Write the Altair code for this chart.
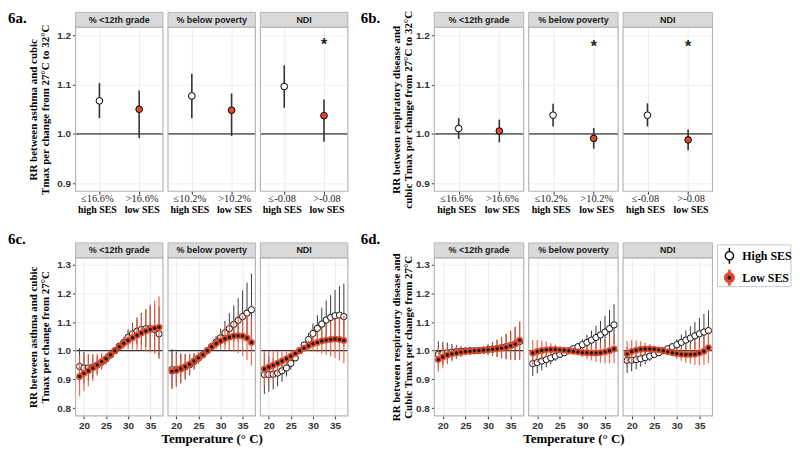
import altair as alt
import pandas as pd

# ---------------- data ----------------
facets = ["% <12th grade", "% below poverty", "NDI"]
groups = ["High SES", "Low SES"]
ses_labels = ["high SES", "low SES"]
cut_high = ["≤16.6%", "≤10.2%", "≤-0.08"]
cut_low = [">16.6%", ">10.2%", ">-0.08"]
panel_labels = ["6a.", "6b.", "6c.", "6d."]

# 6a: asthma, RR 27C -> 32C
a_high_est = [1.067, 1.077, 1.096]
a_high_lo = [1.032, 1.032, 1.053]
a_high_hi = [1.103, 1.122, 1.139]
a_low_est = [1.050, 1.048, 1.037]
a_low_lo = [0.992, 0.996, 0.984]
a_low_hi = [1.088, 1.082, 1.070]
a_star = [False, False, True]
a_star_y = 1.188

# 6b: respiratory disease, RR 27C -> 32C
b_high_est = [1.011, 1.038, 1.038]
b_high_lo = [0.990, 1.015, 1.015]
b_high_hi = [1.032, 1.061, 1.062]
b_low_est = [1.006, 0.991, 0.988]
b_low_lo = [0.983, 0.970, 0.967]
b_low_hi = [1.029, 1.012, 1.009]
b_star = [False, True, True]
b_star_y = 1.184

temps = [19, 20, 21, 22, 23, 24, 25, 26, 27, 28, 29, 30, 31, 32, 33, 34, 35, 36, 37]

# 6c: asthma curves
c_grade_high_est = [0.945, 0.940, 0.940, 0.943, 0.950, 0.960, 0.971, 0.985, 1.000, 1.016, 1.029, 1.047, 1.059, 1.068, 1.074, 1.077, 1.077, 1.074, 1.059]
c_grade_high_lo = [0.885, 0.887, 0.894, 0.904, 0.919, 0.936, 0.955, 0.976, 1.000, 1.007, 1.011, 1.019, 1.022, 1.022, 1.019, 1.013, 1.005, 0.994, 0.972]
c_grade_high_hi = [1.009, 0.996, 0.988, 0.984, 0.982, 0.985, 0.988, 0.994, 1.000, 1.025, 1.048, 1.075, 1.097, 1.116, 1.132, 1.145, 1.155, 1.161, 1.154]
c_grade_low_est = [0.910, 0.921, 0.930, 0.940, 0.950, 0.962, 0.972, 0.986, 1.000, 1.014, 1.026, 1.036, 1.045, 1.054, 1.062, 1.069, 1.074, 1.078, 1.082]
c_grade_low_lo = [0.841, 0.859, 0.876, 0.894, 0.913, 0.933, 0.952, 0.975, 1.000, 1.003, 1.005, 1.005, 1.004, 1.003, 1.001, 0.998, 0.994, 0.989, 0.984]
c_grade_low_hi = [0.985, 0.987, 0.988, 0.989, 0.989, 0.992, 0.992, 0.997, 1.000, 1.025, 1.048, 1.068, 1.088, 1.108, 1.127, 1.145, 1.161, 1.175, 1.190]

c_pov_high_est = [0.934, 0.934, 0.937, 0.943, 0.951, 0.962, 0.974, 0.986, 1.000, 1.015, 1.030, 1.045, 1.062, 1.077, 1.092, 1.106, 1.119, 1.131, 1.143]
c_pov_high_lo = [0.868, 0.875, 0.886, 0.899, 0.914, 0.934, 0.955, 0.976, 1.000, 1.005, 1.010, 1.015, 1.021, 1.026, 1.030, 1.034, 1.035, 1.034, 1.030]
c_pov_high_hi = [1.005, 0.997, 0.991, 0.989, 0.989, 0.991, 0.993, 0.996, 1.000, 1.025, 1.051, 1.076, 1.104, 1.131, 1.158, 1.183, 1.210, 1.237, 1.269]
c_pov_low_est = [0.928, 0.931, 0.937, 0.944, 0.953, 0.964, 0.975, 0.986, 1.000, 1.014, 1.025, 1.034, 1.042, 1.047, 1.051, 1.052, 1.051, 1.044, 1.029]
c_pov_low_lo = [0.867, 0.877, 0.889, 0.902, 0.918, 0.937, 0.956, 0.976, 1.000, 1.004, 1.005, 1.005, 1.004, 1.001, 0.997, 0.991, 0.982, 0.968, 0.948]
c_pov_low_hi = [0.993, 0.989, 0.988, 0.987, 0.989, 0.992, 0.995, 0.996, 1.000, 1.024, 1.046, 1.064, 1.082, 1.095, 1.108, 1.117, 1.125, 1.125, 1.118]

c_ndi_high_est = [0.917, 0.917, 0.918, 0.922, 0.930, 0.940, 0.956, 0.975, 1.000, 1.020, 1.039, 1.060, 1.078, 1.093, 1.107, 1.116, 1.122, 1.124, 1.119]
c_ndi_high_lo = [0.849, 0.857, 0.865, 0.876, 0.892, 0.910, 0.935, 0.964, 1.000, 1.009, 1.017, 1.026, 1.034, 1.039, 1.043, 1.043, 1.039, 1.031, 1.014]
c_ndi_high_hi = [0.990, 0.981, 0.974, 0.970, 0.970, 0.971, 0.977, 0.986, 1.000, 1.031, 1.062, 1.095, 1.124, 1.150, 1.175, 1.194, 1.212, 1.225, 1.234]
c_ndi_low_est = [0.936, 0.943, 0.949, 0.956, 0.964, 0.972, 0.981, 0.990, 1.000, 1.009, 1.017, 1.024, 1.029, 1.034, 1.037, 1.039, 1.041, 1.039, 1.036]
c_ndi_low_lo = [0.876, 0.890, 0.902, 0.916, 0.931, 0.947, 0.964, 0.981, 1.000, 1.000, 0.999, 0.998, 0.994, 0.990, 0.986, 0.980, 0.975, 0.966, 0.956]
c_ndi_low_hi = [1.000, 1.000, 0.998, 0.998, 0.998, 0.997, 0.999, 0.999, 1.000, 1.018, 1.035, 1.051, 1.065, 1.079, 1.091, 1.101, 1.112, 1.118, 1.123]

# 6d: respiratory disease curves
d_grade_high_est = [0.987, 0.990, 0.993, 0.995, 0.997, 0.998, 0.999, 1.000, 1.000, 1.001, 1.002, 1.004, 1.006, 1.008, 1.011, 1.014, 1.018, 1.024, 1.032]
d_grade_high_lo = [0.943, 0.951, 0.959, 0.967, 0.975, 0.981, 0.987, 0.994, 1.000, 0.995, 0.990, 0.986, 0.981, 0.978, 0.974, 0.971, 0.969, 0.968, 0.969]
d_grade_high_hi = [1.033, 1.031, 1.028, 1.024, 1.020, 1.015, 1.011, 1.006, 1.000, 1.007, 1.014, 1.022, 1.031, 1.039, 1.049, 1.059, 1.070, 1.083, 1.099]
d_grade_low_est = [0.969, 0.978, 0.985, 0.989, 0.992, 0.995, 0.997, 0.998, 1.000, 1.001, 1.002, 1.003, 1.005, 1.007, 1.009, 1.012, 1.017, 1.023, 1.037]
d_grade_low_lo = [0.927, 0.941, 0.953, 0.962, 0.971, 0.978, 0.986, 0.992, 1.000, 0.995, 0.990, 0.985, 0.981, 0.978, 0.973, 0.970, 0.969, 0.968, 0.975]
d_grade_low_hi = [1.013, 1.016, 1.018, 1.017, 1.014, 1.012, 1.008, 1.004, 1.000, 1.007, 1.014, 1.021, 1.029, 1.037, 1.046, 1.056, 1.068, 1.081, 1.103]

d_pov_high_est = [0.955, 0.959, 0.964, 0.969, 0.975, 0.981, 0.987, 0.993, 1.000, 1.007, 1.014, 1.021, 1.029, 1.037, 1.046, 1.055, 1.065, 1.077, 1.090]
d_pov_high_lo = [0.912, 0.921, 0.931, 0.942, 0.953, 0.964, 0.975, 0.987, 1.000, 1.001, 1.001, 1.002, 1.003, 1.005, 1.007, 1.009, 1.011, 1.016, 1.023]
d_pov_high_hi = [1.000, 0.998, 0.998, 0.997, 0.997, 0.999, 0.999, 0.999, 1.000, 1.013, 1.027, 1.040, 1.056, 1.070, 1.087, 1.104, 1.121, 1.142, 1.162]
d_pov_low_est = [0.992, 0.997, 1.001, 1.003, 1.004, 1.004, 1.003, 1.002, 1.000, 0.998, 0.996, 0.994, 0.993, 0.992, 0.992, 0.993, 0.996, 1.000, 1.006]
d_pov_low_lo = [0.949, 0.959, 0.968, 0.976, 0.982, 0.987, 0.992, 0.996, 1.000, 0.992, 0.985, 0.977, 0.972, 0.966, 0.961, 0.958, 0.956, 0.955, 0.956]
d_pov_low_hi = [1.037, 1.037, 1.035, 1.031, 1.026, 1.021, 1.014, 1.008, 1.000, 1.004, 1.007, 1.011, 1.015, 1.019, 1.024, 1.030, 1.038, 1.047, 1.058]

d_ndi_high_est = [0.966, 0.967, 0.969, 0.972, 0.976, 0.981, 0.987, 0.993, 1.000, 1.007, 1.014, 1.021, 1.029, 1.037, 1.044, 1.052, 1.059, 1.065, 1.070]
d_ndi_high_lo = [0.922, 0.928, 0.935, 0.944, 0.953, 0.964, 0.975, 0.987, 1.000, 1.000, 1.001, 1.001, 1.003, 1.004, 1.005, 1.006, 1.007, 1.006, 1.005]
d_ndi_high_hi = [1.012, 1.008, 1.004, 1.001, 0.999, 0.999, 0.999, 0.999, 1.000, 1.014, 1.027, 1.041, 1.056, 1.071, 1.085, 1.100, 1.114, 1.128, 1.140]
d_ndi_low_est = [0.989, 0.997, 1.002, 1.005, 1.006, 1.006, 1.005, 1.003, 1.000, 0.996, 0.993, 0.990, 0.988, 0.987, 0.987, 0.988, 0.992, 0.998, 1.010]
d_ndi_low_lo = [0.946, 0.959, 0.969, 0.978, 0.984, 0.989, 0.994, 0.997, 1.000, 0.990, 0.981, 0.972, 0.965, 0.958, 0.954, 0.950, 0.949, 0.950, 0.956]
d_ndi_low_hi = [1.034, 1.037, 1.036, 1.033, 1.028, 1.023, 1.016, 1.009, 1.000, 1.002, 1.005, 1.008, 1.012, 1.017, 1.022, 1.028, 1.037, 1.048, 1.067]

y_titles = [
    ["RR between asthma and cubic", "Tmax per change from 27°C to 32°C"],
    ["RR between respiratory disease and", "cubic Tmax per change from 27°C to 32°C"],
    ["RR between asthma and cubic", "Tmax per change from 27°C"],
    ["RR between respiratory disease and", "Cubic Tmax per change from 27°C"],
]
x_title = "Temperature (° C)"

# ---------------- style ----------------
SERIF = "Liberation Serif"
SANS = "Liberation Sans"
RED = "#e2492b"
RED_BAR = "#ec5a3c"
GRID = "#ececec"
BORDER = "#b5b5b5"
A_DOM = [0.884, 1.216]
A_TICKS = [0.9, 1.0, 1.1, 1.2]
C_DOM = [0.773, 1.324]
C_TICKS = [0.8, 0.9, 1.0, 1.1, 1.2, 1.3]
X_DOM = [18.1, 37.9]
H1, H2 = 165, 159
WA, WB = 88, 90
SPW, LEGW = 77, 74
STRIP = 15

one = pd.DataFrame({"k": [0]})


def y_axis(ticks, show, title, h, tx):
    common = dict(values=ticks, grid=True, gridColor=GRID, gridWidth=0.8, domain=False)
    if show:
        return alt.Axis(format=".1f", labelFont=SANS, labelFontWeight="bold", labelFontSize=10,
                        labelColor="#333333", tickColor="#333333", tickSize=3, labelPadding=2,
                        title=title, titleFont=SERIF, titleFontSize=11, titleFontWeight="bold",
                        titleColor="black", titleLineHeight=12, titleX=tx, titleY=h / 2,
                        titleAngle=270, titleAlign="center", titleBaseline="middle", **common)
    return alt.Axis(labels=False, ticks=False, title=None, **common)


def frame_layers(name, w, h, plabel=None, pdx=0, pdy=0):
    d = pd.DataFrame({"t": [name]})
    out = [
        alt.Chart(d).mark_rect(fill="#d9d9d9", stroke=BORDER, strokeWidth=1).encode(
            x=alt.value(0), x2=alt.value(w), y=alt.value(-STRIP), y2=alt.value(0)),
        alt.Chart(d).mark_text(font=SANS, fontWeight="bold", fontSize=9, color="#1a1a1a",
                               baseline="middle").encode(
            x=alt.value(w / 2), y=alt.value(-STRIP / 2), text="t:N"),
        alt.Chart(one).mark_rect(fill="transparent", stroke=BORDER, strokeWidth=1.2).encode(
            x=alt.value(0), x2=alt.value(w), y=alt.value(0), y2=alt.value(h)),
    ]
    if plabel:
        out.append(alt.Chart(pd.DataFrame({"t": [plabel]})).mark_text(
            font=SERIF, fontWeight="bold", fontSize=15, align="left", baseline="middle",
            color="black").encode(x=alt.value(pdx), y=alt.value(pdy), text="t:N"))
    return out


def ci_cell(fi, hs, ls, star, star_y, w, h, show_y, ytitle, tx, plabel=None, pdx=0):
    X = alt.X("pos:Q", scale=alt.Scale(domain=[0.4, 2.6], nice=False, zero=False),
              axis=alt.Axis(values=[1, 2], labels=False, tickSize=3, tickColor="#333333",
                            grid=True, gridColor=GRID, domain=False, title=None))

    def Y(f):
        return alt.Y(f + ":Q", scale=alt.Scale(domain=A_DOM, nice=False, zero=False),
                     axis=y_axis(A_TICKS, show_y, ytitle, h, tx))

    dh = pd.DataFrame({"pos": [1], "est": [hs[0][fi]], "lo": [hs[1][fi]], "hi": [hs[2][fi]],
                       "cut": [cut_high[fi]], "ses": [ses_labels[0]]})
    dl = pd.DataFrame({"pos": [2], "est": [ls[0][fi]], "lo": [ls[1][fi]], "hi": [ls[2][fi]],
                       "cut": [cut_low[fi]], "ses": [ses_labels[1]]})
    layers = [
        alt.Chart(pd.DataFrame({"v": [1.0]})).mark_rule(color="black", strokeWidth=1).encode(y=Y("v")),
        alt.Chart(dh).mark_rule(color="#333333", strokeWidth=1.6).encode(x=X, y=Y("lo"), y2="hi:Q"),
        alt.Chart(dl).mark_rule(color="#333333", strokeWidth=1.6).encode(x=X, y=Y("lo"), y2="hi:Q"),
        alt.Chart(dh).mark_point(filled=True, fill="white", stroke="black", strokeWidth=1,
                                 size=45, opacity=1).encode(x=X, y=Y("est")),
        alt.Chart(dl).mark_point(filled=True, fill=RED, stroke="black", strokeWidth=1,
                                 size=45, opacity=1).encode(x=X, y=Y("est")),
    ]
    for dd, shift in ((dh, -2), (dl, 3)):
        layers.append(alt.Chart(dd).mark_text(font=SERIF, fontSize=10.5, color="#222222",
                                              baseline="middle", dx=shift).encode(
            x=X, y=alt.value(h + 8), text="cut:N"))
        layers.append(alt.Chart(dd).mark_text(font=SERIF, fontSize=10, fontWeight="bold",
                                              color="black", baseline="middle", dx=shift).encode(
            x=X, y=alt.value(h + 19), text="ses:N"))
    if star[fi]:
        layers.append(alt.Chart(pd.DataFrame({"pos": [2], "y": [star_y], "s": ["*"]})).mark_text(
            font=SANS, fontSize=16, fontWeight="bold", color="#222222", baseline="middle", dy=4
        ).encode(x=X, y=Y("y"), text="s:N"))
    layers += frame_layers(facets[fi], w, h, plabel, pdx, -9)
    return alt.layer(*layers).properties(width=w, height=h)


def curve_cell(fi, hs, ls, w, h, show_y, ytitle, tx, xtitle, plabel=None, pdx=0):
    X = alt.X("T:Q", scale=alt.Scale(domain=X_DOM, nice=False, zero=False),
              axis=alt.Axis(values=[20, 25, 30, 35], format="d", labelFont=SANS,
                            labelFontWeight="bold", labelFontSize=10, labelColor="#333333",
                            tickColor="#333333", tickSize=3, labelPadding=2, grid=True,
                            gridColor=GRID, domain=False, title=xtitle, titleFont=SERIF,
                            titleFontSize=13, titleFontWeight="bold", titleColor="black",
                            titleX=w / 2, titleY=23, titleAngle=0, titleAlign="center",
                            titleBaseline="middle"))

    def Y(f):
        return alt.Y(f + ":Q", scale=alt.Scale(domain=C_DOM, nice=False, zero=False),
                     axis=y_axis(C_TICKS, show_y, ytitle, h, tx))

    dh = pd.DataFrame({"T": temps, "est": hs[0], "lo": hs[1], "hi": hs[2]})
    dl = pd.DataFrame({"T": temps, "est": ls[0], "lo": ls[1], "hi": ls[2]})
    layers = [
        alt.Chart(pd.DataFrame({"v": [1.0]})).mark_rule(color="black", strokeWidth=1).encode(y=Y("v")),
        alt.Chart(dh).mark_rule(color="#3a3a3a", strokeWidth=1).encode(x=X, y=Y("lo"), y2="hi:Q"),
        alt.Chart(dh).mark_point(filled=True, fill="white", stroke="#111111", strokeWidth=1,
                                 size=40, opacity=1).encode(x=X, y=Y("est")),
        alt.Chart(dl).mark_rule(color=RED_BAR, strokeWidth=1.3, opacity=0.85).encode(
            x=X, y=Y("lo"), y2="hi:Q"),
        alt.Chart(dl).mark_point(filled=True, fill=RED, stroke=RED, strokeWidth=0.5,
                                 size=42, opacity=1).encode(x=X, y=Y("est")),
        alt.Chart(dl).mark_point(filled=True, fill="#1a1a1a", strokeWidth=0, size=12,
                                 opacity=1).encode(x=X, y=Y("est")),
    ]
    layers += frame_layers(facets[fi], w, h, plabel, pdx, -19)
    return alt.layer(*layers).properties(width=w, height=h)


def spacer(w, h):
    return alt.Chart(one).mark_point(opacity=0).encode(
        x=alt.value(0), y=alt.value(0)).properties(width=w, height=h)


def legend_cell(w, h):
    d_h = pd.DataFrame({"t": [groups[0]]})
    d_l = pd.DataFrame({"t": [groups[1]]})
    layers = [
        alt.Chart(one).mark_rect(fill="white", stroke="#c8c8c8", strokeWidth=1).encode(
            x=alt.value(0), x2=alt.value(w), y=alt.value(-13), y2=alt.value(29)),
        alt.Chart(one).mark_rule(color="black", strokeWidth=1.5).encode(
            x=alt.value(12), y=alt.value(-10), y2=alt.value(6)),
        alt.Chart(one).mark_point(filled=True, fill="white", stroke="black", strokeWidth=1.4,
                                  size=70, opacity=1).encode(x=alt.value(12), y=alt.value(-2)),
        alt.Chart(d_h).mark_text(font=SERIF, fontWeight="bold", fontSize=12, align="left",
                                 baseline="middle", color="black").encode(
            x=alt.value(25), y=alt.value(-2), text="t:N"),
        alt.Chart(one).mark_rule(color=RED_BAR, strokeWidth=3).encode(
            x=alt.value(12), y=alt.value(12), y2=alt.value(28)),
        alt.Chart(one).mark_point(filled=True, fill=RED, stroke=RED, size=85, opacity=1).encode(
            x=alt.value(12), y=alt.value(20)),
        alt.Chart(one).mark_point(filled=True, fill="#1a1a1a", strokeWidth=0, size=16,
                                  opacity=1).encode(x=alt.value(12), y=alt.value(20)),
        alt.Chart(d_l).mark_text(font=SERIF, fontWeight="bold", fontSize=12, align="left",
                                 baseline="middle", color="black").encode(
            x=alt.value(25), y=alt.value(20), text="t:N"),
    ]
    return alt.layer(*layers).properties(width=w, height=h)


a_hs = (a_high_est, a_high_lo, a_high_hi)
a_ls = (a_low_est, a_low_lo, a_low_hi)
b_hs = (b_high_est, b_high_lo, b_high_hi)
b_ls = (b_low_est, b_low_lo, b_low_hi)

c_series = [
    ((c_grade_high_est, c_grade_high_lo, c_grade_high_hi), (c_grade_low_est, c_grade_low_lo, c_grade_low_hi)),
    ((c_pov_high_est, c_pov_high_lo, c_pov_high_hi), (c_pov_low_est, c_pov_low_lo, c_pov_low_hi)),
    ((c_ndi_high_est, c_ndi_high_lo, c_ndi_high_hi), (c_ndi_low_est, c_ndi_low_lo, c_ndi_low_hi)),
]
d_series = [
    ((d_grade_high_est, d_grade_high_lo, d_grade_high_hi), (d_grade_low_est, d_grade_low_lo, d_grade_low_hi)),
    ((d_pov_high_est, d_pov_high_lo, d_pov_high_hi), (d_pov_low_est, d_pov_low_lo, d_pov_low_hi)),
    ((d_ndi_high_est, d_ndi_high_lo, d_ndi_high_hi), (d_ndi_low_est, d_ndi_low_lo, d_ndi_low_hi)),
]

TX_LEFT, TX_RIGHT = -42, -38

cells = []
for i in range(3):
    cells.append(ci_cell(i, a_hs, a_ls, a_star, a_star_y, WA, H1, i == 0, y_titles[0], TX_LEFT,
                         panel_labels[0] if i == 0 else None, -68))
cells.append(spacer(SPW, H1))
for i in range(3):
    cells.append(ci_cell(i, b_hs, b_ls, b_star, b_star_y, WB, H1, i == 0, y_titles[1], TX_RIGHT,
                         panel_labels[1] if i == 0 else None, -74))
cells.append(spacer(LEGW, H1))
for i in range(3):
    cells.append(curve_cell(i, c_series[i][0], c_series[i][1], WA, H2, i == 0, y_titles[2], TX_LEFT,
                            x_title if i == 1 else None, panel_labels[2] if i == 0 else None, -68))
cells.append(spacer(SPW, H2))
for i in range(3):
    cells.append(curve_cell(i, d_series[i][0], d_series[i][1], WB, H2, i == 0, y_titles[3], TX_RIGHT,
                            x_title if i == 1 else None, panel_labels[3] if i == 0 else None, -74))
cells.append(legend_cell(LEGW, H2))

chart = alt.concat(
    *cells, columns=8, spacing={"row": 67, "column": 5}, bounds="flush", align="each"
).properties(padding=0, background="white").configure_view(stroke=None)

chart.save("out.html", embed_options={"renderer": "svg", "actions": False})
